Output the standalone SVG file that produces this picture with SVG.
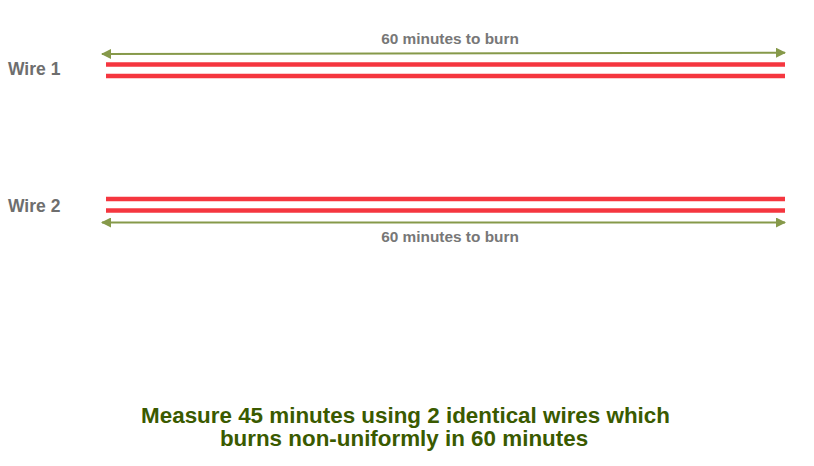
<svg xmlns="http://www.w3.org/2000/svg" width="814" height="466" viewBox="0 0 814 466">
<style>
.lbl{font-family:"Liberation Sans",Arial,sans-serif;font-weight:bold;font-size:17.5px;fill:#6e6e6e}
.dim{font-family:"Liberation Sans",Arial,sans-serif;font-weight:bold;font-size:15.4px;fill:#777777;text-anchor:middle}
.title{font-family:"Liberation Sans",Arial,sans-serif;font-weight:bold;font-size:22.4px;fill:#3a5a00;text-anchor:middle}
.wire{stroke:#f5363f;stroke-width:4.5;fill:none}
.arr{stroke:#86994a;stroke-width:2;fill:none;marker-start:url(#a);marker-end:url(#a)}
</style>
<defs>
<marker id="a" viewBox="0 0 10 10" refX="9" refY="5" markerWidth="5" markerHeight="5" orient="auto-start-reverse" markerUnits="strokeWidth">
<path d="M0,0 L10,5 L0,10 z" fill="#86994a"/>
</marker>
</defs>
<g id="wire1">
<text class="lbl" x="8" y="75">Wire 1</text>
<line class="wire" x1="106" y1="64.5" x2="785" y2="64.5"/>
<line class="wire" x1="106" y1="76" x2="785" y2="76"/>
</g>
<g id="wire2">
<text class="lbl" x="8" y="212">Wire 2</text>
<line class="wire" x1="106" y1="199" x2="785" y2="199"/>
<line class="wire" x1="106" y1="210.5" x2="785" y2="210.5"/>
</g>
<g id="connectors">
<line class="arr" x1="102" y1="54" x2="785" y2="52.7"/>
<line class="arr" x1="102" y1="222.5" x2="785" y2="222.5"/>
</g>
<g id="labels">
<text class="dim" x="450" y="44">60 minutes to burn</text>
<text class="dim" x="450" y="242">60 minutes to burn</text>
</g>
<g id="title">
<text class="title" x="405.5" y="423">Measure 45 minutes using 2 identical wires which</text>
<text class="title" x="404" y="446">burns non-uniformly in 60 minutes</text>
</g>
</svg>
